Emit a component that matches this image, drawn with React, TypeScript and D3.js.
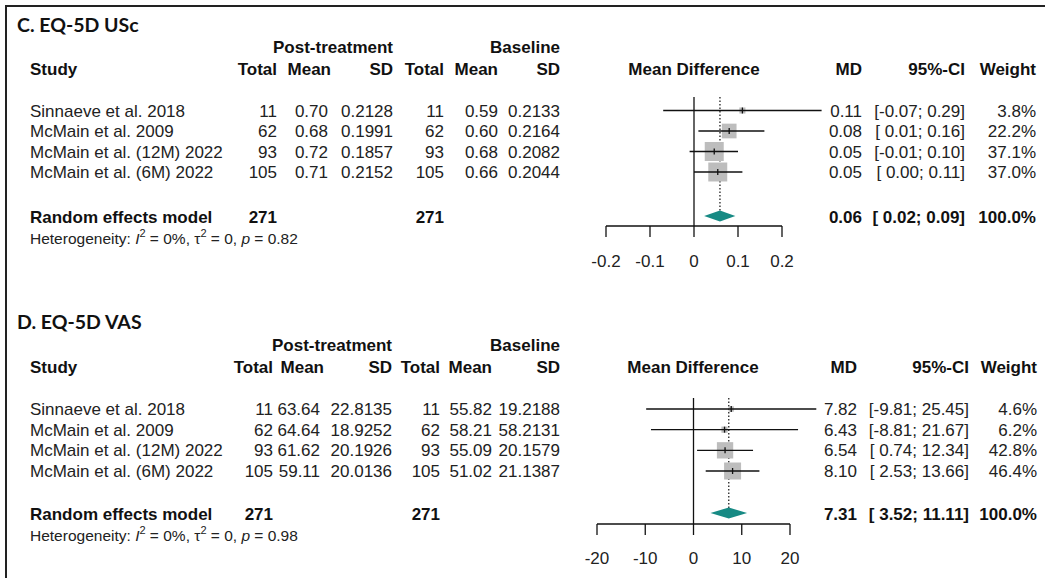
import { useEffect, useRef } from 'react';
import * as d3 from 'd3';

// shared study rows
const studies = ['Sinnaeve et al. 2018', 'McMain et al. 2009', 'McMain et al. (12M) 2022', 'McMain et al. (6M) 2022'];
const totals = [11, 62, 93, 105];
const pooledTotal = 271;

// C. EQ-5D USc
const uscPostMean = [0.70, 0.68, 0.72, 0.71];
const uscPostSd = [0.2128, 0.1991, 0.1857, 0.2152];
const uscBaseMean = [0.59, 0.60, 0.68, 0.66];
const uscBaseSd = [0.2133, 0.2164, 0.2082, 0.2044];
const uscMd = [0.11, 0.08, 0.046, 0.054];
const uscLower = [-0.07, 0.01, -0.01, 0.0];
const uscUpper = [0.29, 0.16, 0.10, 0.11];
const uscWeight = [3.8, 22.2, 37.1, 37.0];
const uscPooled = { md: 0.059, lower: 0.023, upper: 0.094 };
const uscTicks = [-0.2, -0.1, 0, 0.1, 0.2];
const uscP = '0.82';

// D. EQ-5D VAS
const vasPostMean = [63.64, 64.64, 61.62, 59.11];
const vasPostSd = [22.8135, 18.9252, 20.1926, 20.0136];
const vasBaseMean = [55.82, 58.21, 55.09, 51.02];
const vasBaseSd = [19.2188, 58.2131, 20.1579, 21.1387];
const vasMd = [7.82, 6.43, 6.54, 8.10];
const vasLower = [-9.81, -8.81, 0.74, 2.53];
const vasUpper = [25.45, 21.67, 12.34, 13.66];
const vasWeight = [4.6, 6.2, 42.8, 46.4];
const vasPooled = { md: 7.31, lower: 3.52, upper: 11.11 };
const vasTicks = [-20, -10, 0, 10, 20];
const vasP = '0.98';

const FONT = '"Liberation Sans", Arial, sans-serif';

const fmtCI = (lo, hi) => `[${lo >= 0 ? ' ' : ''}${lo.toFixed(2)}; ${hi.toFixed(2)}]`;

function drawPanel(svg, p) {
  const g = svg.append('g').style('font-family', FONT);
  const fs = p.fontSize;

  const txt = (x, y, s, anchor = 'end', bold = false, size = fs) =>
    g.append('text')
      .attr('x', x).attr('y', y)
      .attr('text-anchor', anchor)
      .style('font-size', size + 'px')
      .style('font-weight', bold ? 700 : 400)
      .style('fill', bold ? '#111' : '#222')
      .text(s);

  // panel title
  g.append('text')
    .attr('x', 17).attr('y', p.titleY)
    .style('font-family', 'Lato, "Open Sans", sans-serif')
    .style('font-weight', 700)
    .style('font-size', '19.5px')
    .style('fill', '#111')
    .text(p.title);

  // group headers
  txt(p.cols.postSd, p.groupY, 'Post-treatment', 'end', true);
  txt(p.cols.baseSd, p.groupY, 'Baseline', 'end', true);

  // column headers
  txt(30, p.headY, 'Study', 'start', true);
  txt(p.cols.postTotal, p.headY, 'Total', 'end', true);
  txt(p.cols.postMeanHead, p.headY, 'Mean', 'end', true);
  txt(p.cols.postSd, p.headY, 'SD', 'end', true);
  txt(p.cols.baseTotal, p.headY, 'Total', 'end', true);
  txt(p.cols.baseMean, p.headY, 'Mean', 'end', true);
  txt(p.cols.baseSd, p.headY, 'SD', 'end', true);
  txt(p.plotCenter, p.headY, 'Mean Difference', 'middle', true);
  txt(p.cols.md, p.headY, 'MD', 'end', true);
  txt(p.cols.ci, p.headY, '95%-CI', 'end', true);
  txt(p.cols.weight, p.headY, 'Weight', 'end', true);

  const y = d3.scalePoint().domain(studies).range([p.rowTop, p.rowBottom]);
  const x = d3.scaleLinear().domain(d3.extent(p.ticks)).range(p.xRange);
  const side = d3.scaleSqrt().domain([0, d3.max(p.weight)]).range([0, p.maxSide]);

  studies.forEach((s, i) => {
    const ty = y(s) + 6;
    txt(30, ty, s, 'start');
    txt(p.cols.postTotal, ty, String(totals[i]));
    txt(p.cols.postMean, ty, p.postMean[i].toFixed(2));
    txt(p.cols.postSd, ty, p.postSd[i].toFixed(4));
    txt(p.cols.baseTotal, ty, String(totals[i]));
    txt(p.cols.baseMean, ty, p.baseMean[i].toFixed(2));
    txt(p.cols.baseSd, ty, p.baseSd[i].toFixed(4));
    txt(p.cols.md, ty, p.md[i].toFixed(2));
    txt(p.cols.ci, ty, fmtCI(p.lower[i], p.upper[i]));
    txt(p.cols.weight, ty, p.weight[i].toFixed(1) + '%');
  });

  // pooled row
  const sy = p.sumY + 7;
  txt(30, sy, 'Random effects model', 'start', true);
  txt(p.cols.postTotal, sy, String(pooledTotal), 'end', true);
  txt(p.cols.baseTotal, sy, String(pooledTotal), 'end', true);
  txt(p.cols.md, sy, p.pooled.md.toFixed(2), 'end', true);
  txt(p.cols.ci, sy, fmtCI(p.pooled.lower, p.pooled.upper), 'end', true);
  txt(p.cols.weight, sy, '100.0%', 'end', true);

  // heterogeneity line
  const het = g.append('text')
    .attr('x', 30).attr('y', p.hetY)
    .style('font-size', p.hetSize + 'px')
    .style('fill', '#222');
  het.append('tspan').text('Heterogeneity: ');
  het.append('tspan').style('font-style', 'italic').text('I');
  het.append('tspan').attr('dy', -7).style('font-size', '11px').text('2');
  het.append('tspan').attr('dy', 7).text(' = 0%, τ');
  het.append('tspan').attr('dy', -7).style('font-size', '11px').text('2');
  het.append('tspan').attr('dy', 7).text(' = 0, ');
  het.append('tspan').style('font-style', 'italic').text('p');
  het.append('tspan').text(' = ' + p.pval);

  // forest plot
  const plot = g.append('g');

  // line of no effect
  plot.append('line')
    .attr('x1', x(0)).attr('x2', x(0))
    .attr('y1', p.zeroTop).attr('y2', p.axisY)
    .attr('stroke', '#111').attr('stroke-width', 1.3);

  // pooled estimate (dotted)
  plot.append('line')
    .attr('x1', x(p.pooled.md)).attr('x2', x(p.pooled.md))
    .attr('y1', p.zeroTop).attr('y2', p.sumY - 5)
    .attr('stroke', '#222').attr('stroke-width', 1.3)
    .attr('stroke-dasharray', '1.5,2');

  studies.forEach((s, i) => {
    const cy = y(s);
    const w = side(p.weight[i]);
    plot.append('rect')
      .attr('x', x(p.md[i]) - w / 2).attr('y', cy - w / 2)
      .attr('width', w).attr('height', w)
      .attr('fill', '#bdbdbd');
    plot.append('line')
      .attr('x1', x(p.lower[i])).attr('x2', x(p.upper[i]))
      .attr('y1', cy).attr('y2', cy)
      .attr('stroke', '#111').attr('stroke-width', 1.3);
    plot.append('line')
      .attr('x1', x(p.md[i])).attr('x2', x(p.md[i]))
      .attr('y1', cy - 3).attr('y2', cy + 3)
      .attr('stroke', '#111').attr('stroke-width', 1.3);
  });

  // diamond
  const dh = p.diamondH / 2;
  plot.append('path')
    .attr('d', `M${x(p.pooled.lower)},${p.sumY} L${x(p.pooled.md)},${p.sumY - dh} L${x(p.pooled.upper)},${p.sumY} L${x(p.pooled.md)},${p.sumY + dh} Z`)
    .attr('fill', '#178a84');

  // axis
  const axis = plot.append('g').attr('transform', `translate(0,${p.axisY})`);
  axis.append('line')
    .attr('x1', x(p.ticks[0])).attr('x2', x(p.ticks[p.ticks.length - 1]))
    .attr('stroke', '#111').attr('stroke-width', 1.3);
  p.ticks.forEach(t => {
    axis.append('line')
      .attr('x1', x(t)).attr('x2', x(t)).attr('y1', 0).attr('y2', 11)
      .attr('stroke', '#111').attr('stroke-width', 1.3);
    axis.append('text')
      .attr('x', x(t)).attr('y', p.tickLabelY - p.axisY)
      .attr('text-anchor', 'middle')
      .style('font-size', fs + 'px')
      .style('fill', '#222')
      .text(String(t));
  });
}

export default function App() {
  const svgRef = useRef(null);

  useEffect(() => {
    const svg = d3.select(svgRef.current);
    svg.selectAll('*').remove();

    svg.append('rect').attr('width', 1045).attr('height', 578).attr('fill', '#fff');

    // frame
    svg.append('path')
      .attr('d', 'M6,578 V6 H1045')
      .attr('fill', 'none')
      .attr('stroke', '#222')
      .attr('stroke-width', 2);

    drawPanel(svg, {
      title: 'C. EQ-5D USc',
      fontSize: 17, hetSize: 15.5,
      titleY: 32, groupY: 53, headY: 75,
      rowTop: 110.5, rowBottom: 172, sumY: 216, hetY: 244,
      zeroTop: 97, axisY: 226, tickLabelY: 267,
      xRange: [606, 782], ticks: uscTicks, plotCenter: 694,
      maxSide: 19, diamondH: 11,
      cols: { postTotal: 277, postMean: 328, postMeanHead: 331, postSd: 393, baseTotal: 444, baseMean: 498, baseSd: 560, md: 862, ci: 965, weight: 1036 },
      postMean: uscPostMean, postSd: uscPostSd, baseMean: uscBaseMean, baseSd: uscBaseSd,
      md: uscMd, lower: uscLower, upper: uscUpper, weight: uscWeight,
      pooled: uscPooled, pval: uscP,
    });

    drawPanel(svg, {
      title: 'D. EQ-5D VAS',
      fontSize: 17, hetSize: 15.5,
      titleY: 329, groupY: 351, headY: 373,
      rowTop: 409, rowBottom: 471, sumY: 513, hetY: 541,
      zeroTop: 398, axisY: 524, tickLabelY: 564,
      xRange: [597, 790], ticks: vasTicks, plotCenter: 693,
      maxSide: 17, diamondH: 11,
      cols: { postTotal: 273, postMean: 320, postMeanHead: 324, postSd: 392, baseTotal: 440, baseMean: 492, baseSd: 560, md: 857, ci: 969, weight: 1037 },
      postMean: vasPostMean, postSd: vasPostSd, baseMean: vasBaseMean, baseSd: vasBaseSd,
      md: vasMd, lower: vasLower, upper: vasUpper, weight: vasWeight,
      pooled: vasPooled, pval: vasP,
    });
  }, []);

  return (
    <svg
      ref={svgRef}
      width={1045}
      height={578}
      style={{ position: 'absolute', left: 0, top: 0, display: 'block' }}
    />
  );
}
